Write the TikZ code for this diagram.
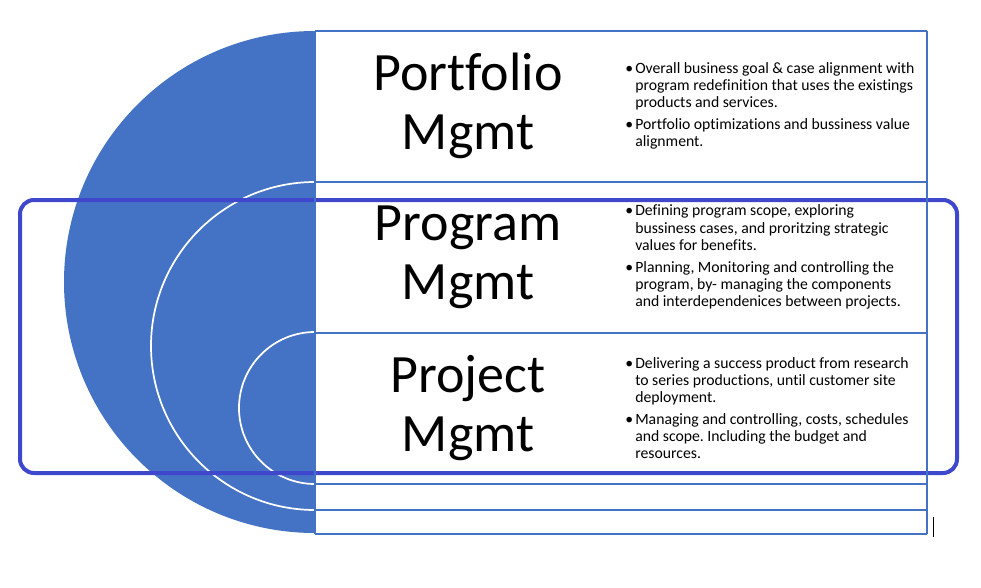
\documentclass[tikz,border=0pt]{standalone}
\usepackage{fontspec}
\setmainfont{Carlito}[Ligatures=NoCommon]
\usetikzlibrary{positioning}
\definecolor{diskblue}{HTML}{4472C4}
\definecolor{bandblue}{HTML}{3F48CC}
\newcommand{\blt}{\makebox[7.5pt][l]{\textbullet}}
\frenchspacing

\begin{document}
\begin{tikzpicture}[x=0.75pt, y=-0.75pt,
    rowline/.style={draw=diskblue, line width=1.1pt},
    ring/.style={draw=white, line width=1.3pt},
    title/.style={align=center, font=\fontsize{40.5}{44}\selectfont},
    notes/.style={anchor=west, inner sep=0pt, align=left,
      font=\fontsize{11.8}{12.8}\selectfont}]
    \useasboundingbox (0,0) rectangle (981,588);

    % Half disc and rings
    \begin{scope}
      \clip (0,0) rectangle (315,588);
      \fill[diskblue] (315,282) circle (251);
      \draw[ring] (315,346) circle (164);
      \draw[ring] (315,408) circle (76);
    \end{scope}

    % Band round the two lower rows
    \draw[bandblue, line width=3pt, rounded corners=10.5pt]
      (20,200) rectangle (957,473);

    % Table rows
    \foreach \y in {31,182,333,484,510,534}
      \draw[rowline] (315,\y) -- (927,\y);
    \draw[rowline] (315,31) -- (315,534);
    \draw[rowline] (927,31) -- (927,534);

    % Titles
    \node[title] (port) at (468,106) {Portfolio\\Mgmt};
    \node[title] (prog) at (468,257) {Program\\Mgmt};
    \node[title] (proj) at (468,408) {Project\\Mgmt};

    % Notes
    \node[notes] (portnote) at (625,106) {%
      \blt Overall business goal \& case alignment with\\
      \hspace*{7.5pt}program redefinition that uses the existings\\
      \hspace*{7.5pt}products and services.\\[3.75pt]
      \blt Portfolio optimizations and bussiness value\\
      \hspace*{7.5pt}alignment.};
    \node[notes] (prognote) at (625,257) {%
      \blt Defining program scope, exploring\\
      \hspace*{7.5pt}bussiness cases, and proritzing strategic\\
      \hspace*{7.5pt}values for benefits.\\[3.75pt]
      \blt Planning, Monitoring and controlling the\\
      \hspace*{7.5pt}program, by- managing the components\\
      \hspace*{7.5pt}and interdependenices between projects.};
    \node[notes] (projnote) at (625,408) {%
      \blt Delivering a success product from research\\
      \hspace*{7.5pt}to series productions, until customer site\\
      \hspace*{7.5pt}deployment.\\[3.75pt]
      \blt Managing and controlling, costs, schedules\\
      \hspace*{7.5pt}and scope. Including the budget and\\
      \hspace*{7.5pt}resources.};

    % Cursor mark
    \coordinate (cur1) at (933,517);
    \coordinate (cur2) at (933,537);
    \draw[line width=0.75pt] (cur1) -- (cur2);
  \end{tikzpicture}
\end{document}
